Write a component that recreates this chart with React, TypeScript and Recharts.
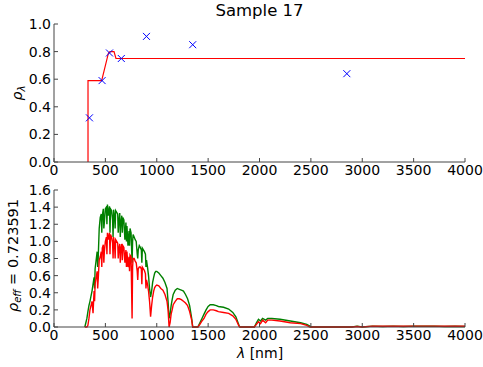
import React from 'react'
import { ComposedChart, LineChart, Line, Scatter, XAxis, YAxis, Label } from 'recharts'

// top panel: fitted reflectance step + measured points
const stepX = [331, 331, 464, 530, 545, 584, 603, 4000]
const stepY = [0, 0.59, 0.59, 0.79, 0.8, 0.8, 0.75, 0.75]
const pointX = [345, 468, 540, 655, 900, 1350, 2850]
const pointY = [0.32, 0.59, 0.79, 0.75, 0.91, 0.85, 0.64]

// bottom panel: irradiance (green) and reflected (red)
const specWl = [
  300, 310, 320, 330, 340, 350, 360, 370, 380, 390,
  395, 400, 410, 420, 425, 430, 440, 450, 460, 465,
  470, 480, 485, 490, 500, 510, 515, 520, 530, 540,
  545, 550, 560, 570, 575, 580, 590, 595, 600, 610,
  620, 625, 630, 640, 645, 650, 660, 665, 670, 680,
  690, 700, 705, 710, 720, 730, 735, 740, 750, 760,
  765, 770, 780, 790, 800, 810, 815, 820, 830, 840,
  850, 855, 860, 870, 880, 890, 895, 900, 910, 920,
  930, 940, 950, 960, 970, 980, 990,
  1000, 1020, 1040, 1060, 1080, 1100, 1110, 1120, 1130, 1140,
  1150, 1160, 1180, 1200, 1220, 1240, 1260, 1280, 1300, 1320,
  1340, 1350, 1400, 1420, 1440, 1460, 1480, 1500, 1520, 1550,
  1580, 1600, 1650, 1700, 1740, 1770, 1800, 1810, 1950, 1970,
  1990, 2010, 2030, 2060, 2080, 2120, 2200, 2300, 2400, 2460,
  2490, 2500, 2900, 2950, 3000, 3100, 3200, 3300, 3400, 3500,
  3600, 3700, 3800, 3900, 4000,
]
const green = [
  0, 0.05, 0.1, 0.18, 0.25, 0.3, 0.36, 0.42, 0.5, 0.58,
  0.45, 0.68, 0.78, 0.88, 0.7, 0.8, 1.15, 1.28, 1.32, 1.1,
  1.3, 1.38, 1.15, 1.22, 1.38, 1.4, 1.2, 1.43, 1.3, 1.41,
  1.1, 1.38, 1.36, 1.25, 1.05, 1.37, 1.28, 1.15, 1.36, 1.34,
  1.32, 1.1, 1.22, 1.33, 1.05, 1.2, 1.3, 1.1, 1.28, 1.25,
  1.02, 1.22, 1.0, 1.18, 0.95, 1.12, 0.95, 1.15, 1.1, 0.75,
  1.0, 1.08, 1.05, 1.02, 1.0, 0.85, 0.8, 0.9, 0.95, 0.93,
  0.9, 0.75, 0.92, 0.9, 0.88, 0.85, 0.7, 0.78, 0.7, 0.6,
  0.45, 0.35, 0.42, 0.52, 0.58, 0.63, 0.65,
  0.65, 0.63, 0.6, 0.57, 0.52, 0.45, 0.3, 0.1, 0.15, 0.25,
  0.32, 0.38, 0.43, 0.45, 0.44, 0.43, 0.42, 0.38, 0.33, 0.25,
  0.1, 0, 0, 0.05, 0.1, 0.15, 0.2, 0.24, 0.26, 0.26,
  0.25, 0.24, 0.23, 0.21, 0.17, 0.12, 0.02, 0, 0, 0.05,
  0.09, 0.07, 0.1, 0.08, 0.1, 0.1, 0.09, 0.07, 0.05, 0.03,
  0.01, 0, 0, 0.01, 0, 0.01, 0.005, 0.01, 0.005, 0.01,
  0.008, 0.01, 0.006, 0.008, 0.005,
]
const red = [
  0, 0, 0, 0.02, 0.1, 0.2, 0.25, 0.3, 0.16, 0.42,
  0.3, 0.5, 0.58, 0.65, 0.45, 0.55, 0.78, 0.82, 0.88, 0.7,
  0.92, 0.96, 0.75, 0.88, 1.0, 1.05, 0.85, 1.1, 1.02, 1.1,
  0.85, 1.08, 1.05, 0.98, 0.8, 1.05, 0.95, 0.8, 1.02, 1.0,
  0.98, 0.8, 0.9, 0.97, 0.75, 0.9, 0.97, 0.78, 0.95, 0.93,
  0.75, 0.9, 0.7, 0.88, 0.7, 0.82, 0.65, 0.84, 0.82, 0.1,
  0.7, 0.8, 0.8, 0.77, 0.75, 0.65, 0.55, 0.68, 0.7, 0.7,
  0.68, 0.5, 0.7, 0.68, 0.66, 0.62, 0.45, 0.55, 0.5, 0.42,
  0.3, 0.12, 0.25, 0.35, 0.42, 0.46, 0.48,
  0.49, 0.48, 0.45, 0.43, 0.38, 0.3, 0.2, 0, 0.05, 0.15,
  0.2, 0.26, 0.3, 0.33, 0.33, 0.32, 0.3, 0.28, 0.25, 0.18,
  0.08, 0, 0, 0.03, 0.07, 0.1, 0.15, 0.18, 0.2, 0.2,
  0.19, 0.18, 0.17, 0.16, 0.13, 0.09, 0.01, 0, 0, 0.03,
  0.06, 0.04, 0.08, 0.05, 0.08, 0.08, 0.07, 0.05, 0.04, 0.02,
  0, 0, 0, 0.005, 0, 0.01, 0.008, 0.01, 0.008, 0.01,
  0.01, 0.01, 0.008, 0.01, 0.008,
]

const xTicks = [0, 500, 1000, 1500, 2000, 2500, 3000, 3500, 4000]
const topYTicks = [0, 0.2, 0.4, 0.6, 0.8, 1.0]
const botYTicks = [0, 0.2, 0.4, 0.6, 0.8, 1.0, 1.2, 1.4, 1.6]

const FONT = '"DejaVu Sans", sans-serif'
const AXIS = '#444'
const tickStyle = { fontSize: 14, fill: '#000', fontFamily: FONT }

const stepData = stepX.map((x, i) => ({ x, y: stepY[i] }))
const pointData = pointX.map((x, i) => ({ x, y: pointY[i] }))
const specData = specWl.map((x, i) => ({ x, g: green[i], r: red[i] }))

const Cross = (props: any) => {
  const { cx, cy } = props
  const s = 3.5
  return (
    <path
      d={`M${cx - s},${cy - s}L${cx + s},${cy + s}M${cx - s},${cy + s}L${cx + s},${cy - s}`}
      stroke="#0000ff"
      strokeWidth={1}
      fill="none"
    />
  )
}

const RhoLambda = (props: any) => {
  const { viewBox } = props
  const cx = 22
  const cy = viewBox.y + viewBox.height / 2
  return (
    <text x={cx} y={cy} transform={`rotate(-90 ${cx} ${cy})`} textAnchor="middle" fontFamily={FONT} fontSize={14}>
      <tspan fontStyle="italic">ρ</tspan>
      <tspan fontStyle="italic" fontSize={10} dy={3}>λ</tspan>
    </text>
  )
}

const RhoEff = (props: any) => {
  const { viewBox } = props
  const cx = 18
  const cy = viewBox.y + viewBox.height / 2 - 3
  return (
    <text x={cx} y={cy} transform={`rotate(-90 ${cx} ${cy})`} textAnchor="middle" fontFamily={FONT} fontSize={14.5}>
      <tspan fontStyle="italic">ρ</tspan>
      <tspan fontStyle="italic" fontSize={10} dy={3}>eff</tspan>
      <tspan dy={-3}> = 0.723591</tspan>
    </text>
  )
}

const LambdaLabel = () => (
  <text x={260} y={178} textAnchor="middle" fontFamily={FONT} fontSize={14}>
    <tspan fontStyle="italic">λ</tspan> [nm]
  </text>
)

const frameAxes = (yDomain: number[], yTicks: number[]) => [
  <XAxis
    key="top"
    xAxisId="top"
    orientation="top"
    type="number"
    dataKey="x"
    domain={[0, 4000]}
    ticks={xTicks}
    height={0}
    tickSize={-4}
    tickFormatter={() => ''}
    stroke={AXIS}
  />,
  <YAxis
    key="right"
    yAxisId="right"
    orientation="right"
    type="number"
    domain={yDomain}
    ticks={yTicks}
    width={0}
    tickSize={-4}
    tickFormatter={() => ''}
    stroke={AXIS}
  />,
]

export default function App() {
  return (
    <div style={{ position: 'absolute', left: 0, top: 0, width: 483, height: 367, background: '#fff' }}>
      <div
        style={{
          position: 'absolute',
          left: 0,
          width: 519,
          top: 1,
          textAlign: 'center',
          fontFamily: FONT,
          fontSize: 16.5,
          lineHeight: '20px',
        }}
      >
        Sample 17
      </div>
      <div style={{ position: 'absolute', left: 0, top: 0 }}>
        <ComposedChart width={483} height={180} margin={{ top: 24, right: 18, bottom: 0, left: 0 }}>
          <XAxis
            type="number"
            dataKey="x"
            domain={[0, 4000]}
            ticks={xTicks}
            interval={0}
            height={18}
            tickSize={-4}
            tickMargin={7}
            tick={tickStyle}
            stroke={AXIS}
          />
          <YAxis
            type="number"
            domain={[0, 1]}
            ticks={topYTicks}
            interval={0}
            width={54}
            tickSize={-4}
            tickMargin={7}
            tick={tickStyle}
            tickFormatter={(v: number) => v.toFixed(1)}
            stroke={AXIS}
          >
            <Label content={RhoLambda} />
          </YAxis>
          {frameAxes([0, 1], topYTicks)}
          <Line
            data={stepData}
            dataKey="y"
            type="linear"
            stroke="#ff0000"
            strokeWidth={1.2}
            dot={false}
            isAnimationActive={false}
          />
          <Scatter data={pointData} dataKey="y" shape={Cross} isAnimationActive={false} />
        </ComposedChart>
      </div>
      <div style={{ position: 'absolute', left: 0, top: 180 }}>
        <LineChart width={483} height={187} data={specData} margin={{ top: 10, right: 18, bottom: 0, left: 0 }}>
          <XAxis
            type="number"
            dataKey="x"
            domain={[0, 4000]}
            ticks={xTicks}
            interval={0}
            height={40}
            tickSize={-4}
            tickMargin={7}
            tick={tickStyle}
            stroke={AXIS}
          >
            <Label content={LambdaLabel} />
          </XAxis>
          <YAxis
            type="number"
            domain={[0, 1.6]}
            ticks={botYTicks}
            interval={0}
            width={54}
            tickSize={-4}
            tickMargin={7}
            tick={tickStyle}
            tickFormatter={(v: number) => v.toFixed(1)}
            stroke={AXIS}
          >
            <Label content={RhoEff} />
          </YAxis>
          {frameAxes([0, 1.6], botYTicks)}
          <Line dataKey="g" type="linear" stroke="#008000" strokeWidth={1.4} dot={false} isAnimationActive={false} />
          <Line dataKey="r" type="linear" stroke="#ff0000" strokeWidth={1.4} dot={false} isAnimationActive={false} />
        </LineChart>
      </div>
    </div>
  )
}
